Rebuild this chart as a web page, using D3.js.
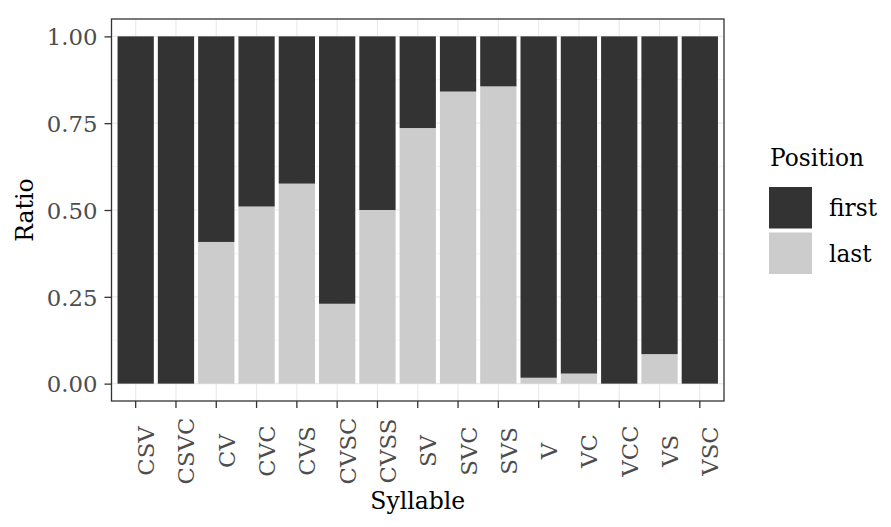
<!DOCTYPE html>
<html>
<head>
<meta charset="utf-8">
<script src="https://cdn.jsdelivr.net/npm/d3@7"></script>
<style>
  html, body { margin: 0; padding: 0; background: #fff; }
  svg { display: block; }
  text { font-family: "DejaVu Serif", "Liberation Serif", serif; }
</style>
</head>
<body>
<svg id="chart" width="891" height="527"></svg>
<script>
const categories = ["CSV","CSVC","CV","CVC","CVS","CVSC","CVSS","SV","SVC","SVS","V","VC","VCC","VS","VSC"];
const lastValues  = [0, 0, 0.408, 0.51, 0.576, 0.23, 0.50, 0.736, 0.841, 0.856, 0.017, 0.029, 0, 0.085, 0];
const firstValues = [1, 1, 0.592, 0.49, 0.424, 0.77, 0.50, 0.264, 0.159, 0.144, 0.983, 0.971, 1, 0.915, 1];
const seriesNames = ["last", "first"];
const legendOrder = ["first", "last"];
const yTicks = [0, 0.25, 0.5, 0.75, 1.0];
const yMinor = [0.125, 0.375, 0.625, 0.875];

const colors = { first: "#333333", last: "#CCCCCC" };

const svg = d3.select("#chart");
const panel = { left: 111.5, right: 724, top: 19, bottom: 401 };

const x = d3.scaleBand().domain(categories)
  .range([panel.left, panel.right])
  .paddingInner(0.1).paddingOuter(0.15);
const y = d3.scaleLinear().domain([-0.05, 1.05]).range([panel.bottom, panel.top]);

const table = categories.map((c, i) => ({ cat: c, last: lastValues[i], first: firstValues[i] }));
const stacked = d3.stack().keys(seriesNames)(table);

// panel background
svg.append("rect").attr("x", panel.left).attr("y", panel.top)
  .attr("width", panel.right - panel.left).attr("height", panel.bottom - panel.top)
  .attr("fill", "#fff");

// grid
const grid = svg.append("g");
grid.selectAll(".ymin").data(yMinor).join("line")
  .attr("x1", panel.left).attr("x2", panel.right)
  .attr("y1", d => y(d)).attr("y2", d => y(d))
  .attr("stroke", "#EBEBEB").attr("stroke-width", 0.6);
grid.selectAll(".ymaj").data(yTicks).join("line")
  .attr("x1", panel.left).attr("x2", panel.right)
  .attr("y1", d => y(d)).attr("y2", d => y(d))
  .attr("stroke", "#EBEBEB").attr("stroke-width", 1.2);
grid.selectAll(".xmaj").data(categories).join("line")
  .attr("x1", d => x(d) + x.bandwidth() / 2).attr("x2", d => x(d) + x.bandwidth() / 2)
  .attr("y1", panel.top).attr("y2", panel.bottom)
  .attr("stroke", "#EBEBEB").attr("stroke-width", 1.2);

// bars
svg.append("g").selectAll("g").data(stacked).join("g")
  .attr("fill", d => colors[d.key])
  .selectAll("rect").data(d => d).join("rect")
  .attr("x", d => x(d.data.cat))
  .attr("width", x.bandwidth())
  .attr("y", d => y(d[1]))
  .attr("height", d => y(d[0]) - y(d[1]));

// panel border
svg.append("rect").attr("x", panel.left).attr("y", panel.top)
  .attr("width", panel.right - panel.left).attr("height", panel.bottom - panel.top)
  .attr("fill", "none").attr("stroke", "#333333").attr("stroke-width", 1.3);

// y axis
const yAxis = d3.axisLeft(y).tickValues(yTicks).tickFormat(d3.format(".2f")).tickSize(7).tickPadding(7);
const gy = svg.append("g").attr("transform", `translate(${panel.left},0)`).call(yAxis);
gy.select(".domain").remove();
gy.selectAll(".tick line").attr("stroke", "#333333").attr("stroke-width", 1.3);
gy.selectAll(".tick text").attr("fill", "#4D4D4D").style("font-size", "22.8px")
  .style("font-family", "DejaVu Serif").attr("dy", "0.36em");

// x axis
const xAxis = d3.axisBottom(x).tickSize(7).tickPadding(0);
const gx = svg.append("g").attr("transform", `translate(0,${panel.bottom})`).call(xAxis);
gx.select(".domain").remove();
gx.selectAll(".tick line").attr("stroke", "#333333").attr("stroke-width", 1.3);
gx.selectAll(".tick text")
  .attr("fill", "#4D4D4D").style("font-size", "22.8px").style("font-family", "DejaVu Serif")
  .attr("text-anchor", "middle").attr("dy", null).attr("y", 0)
  .attr("transform", "translate(18.5,50) rotate(-90)");

// axis titles
svg.append("text").attr("x", (panel.left + panel.right) / 2).attr("y", 509)
  .attr("text-anchor", "middle").attr("fill", "#000").style("font-size", "23.5px").text("Syllable");
svg.append("text").attr("transform", `translate(33,${(panel.top + panel.bottom) / 2}) rotate(-90)`)
  .attr("text-anchor", "middle").attr("fill", "#000").style("font-size", "23.5px").text("Ratio");

// legend
const lg = svg.append("g");
lg.append("text").attr("x", 770).attr("y", 166).attr("fill", "#000").style("font-size", "23.3px").text("Position");
const keyY = { first: 187, last: 232.5 };
legendOrder.forEach(k => {
  lg.append("rect").attr("x", 769).attr("y", keyY[k]).attr("width", 43).attr("height", 41.5)
    .attr("fill", colors[k]);
  lg.append("text").attr("x", 829).attr("y", keyY[k] + 21).attr("dy", "0.36em")
    .attr("fill", "#000").style("font-size", "23.3px").text(k);
});
</script>
</body>
</html>
